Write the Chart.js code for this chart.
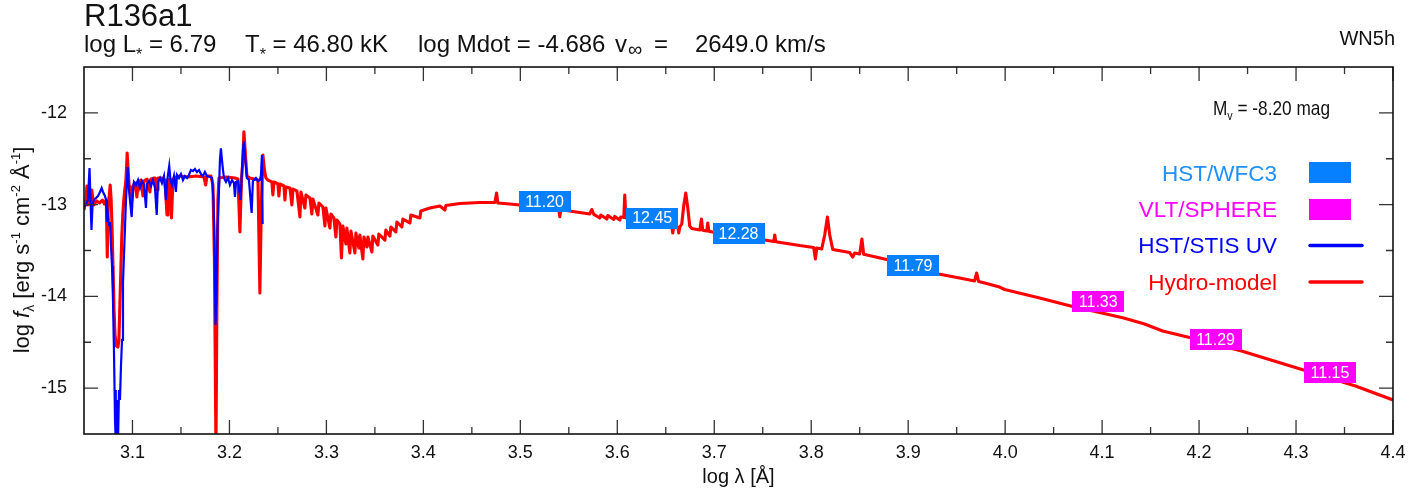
<!DOCTYPE html>
<html>
<head>
<meta charset="utf-8">
<title>R136a1 SED</title>
<script src="https://cdn.jsdelivr.net/npm/chart.js@4.4.1/dist/chart.umd.min.js"></script>
<style>
  html, body { margin: 0; padding: 0; background: #fff; }
</style>
</head>
<body>
<canvas id="sedChart" width="1419" height="495"></canvas>
<script>
// Model spectrum: [log lambda (A), log f_lambda]
const modelSpectrum = [
  [3.050, -13.059], [3.052, -12.950], [3.053, -12.797], [3.054, -13.004], [3.056, -12.982],
  [3.058, -12.841], [3.060, -13.004], [3.063, -12.960], [3.066, -12.982], [3.069, -12.950],
  [3.071, -12.993], [3.073, -12.950], [3.074, -13.571], [3.075, -12.982], [3.076, -12.906],
  [3.077, -12.786], [3.078, -12.950], [3.079, -13.277], [3.080, -13.713], [3.081, -14.148],
  [3.082, -14.421], [3.0835, -14.541], [3.085, -14.552], [3.086, -14.475], [3.087, -14.094],
  [3.088, -13.713], [3.089, -13.331], [3.090, -13.113], [3.091, -12.950], [3.092, -12.841],
  [3.093, -12.764], [3.094, -12.568], [3.0945, -12.437], [3.0955, -12.623], [3.0966, -12.797],
  [3.0985, -12.819], [3.0995, -12.950], [3.1005, -12.797], [3.1026, -12.764], [3.1046, -12.917],
  [3.1057, -12.753], [3.1088, -12.732], [3.1108, -12.906], [3.1119, -12.743], [3.115, -12.721],
  [3.118, -12.862], [3.119, -12.721], [3.1232, -12.710], [3.1253, -12.841], [3.1263, -12.710],
  [3.1304, -12.710], [3.1335, -12.732], [3.1356, -13.113], [3.1366, -12.732], [3.1387, -12.721],
  [3.1402, -13.146], [3.1418, -12.721], [3.1448, -12.699], [3.149, -12.688], [3.1572, -12.699],
  [3.1655, -12.688], [3.1737, -12.699], [3.1755, -12.786], [3.1768, -12.688], [3.1809, -12.688],
  [3.183, -12.786], [3.1845, -13.604], [3.1861, -15.674], [3.1871, -14.039], [3.1881, -12.950],
  [3.1892, -12.710], [3.1964, -12.699], [3.2057, -12.710], [3.2088, -12.721], [3.2108, -13.298],
  [3.2124, -12.732], [3.2139, -12.514], [3.2149, -12.205], [3.2165, -12.459], [3.218, -12.688],
  [3.2211, -12.710], [3.2253, -12.721], [3.2294, -12.732], [3.2314, -13.963], [3.233, -12.950],
  [3.2345, -12.459], [3.2361, -12.623], [3.2376, -12.710], [3.2397, -12.732],
  [3.2438, -12.753], [3.2448, -12.895], [3.2459, -12.753], [3.250, -12.775], [3.251, -12.906],
  [3.252, -12.775], [3.2562, -12.797], [3.2572, -12.950], [3.2582, -12.808], [3.2624, -12.819],
  [3.2644, -13.004], [3.2655, -12.830], [3.2696, -12.851], [3.2727, -13.135], [3.2737, -12.862],
  [3.2778, -13.037], [3.2789, -12.895], [3.283, -12.928], [3.285, -13.102], [3.2861, -12.939],
  [3.2912, -13.113], [3.2923, -12.982], [3.2964, -13.026], [3.2985, -13.233], [3.2995, -13.037],
  [3.3036, -13.255], [3.3046, -13.102], [3.3077, -13.146], [3.3098, -13.353], [3.3108, -13.168],
  [3.3139, -13.211], [3.3155, -13.582], [3.317, -13.233], [3.3201, -13.429], [3.3211, -13.255],
  [3.3242, -13.527], [3.3253, -13.287], [3.3294, -13.527], [3.3304, -13.309], [3.3335, -13.473],
  [3.3345, -13.331], [3.3376, -13.593], [3.3387, -13.353], [3.3418, -13.462], [3.3428, -13.353],
  [3.3469, -13.516], [3.3479, -13.342], [3.353, -13.440], [3.3541, -13.320], [3.3603, -13.386],
  [3.3613, -13.277], [3.3655, -13.342], [3.3665, -13.244], [3.3716, -13.298], [3.3727, -13.189],
  [3.3778, -13.244], [3.3789, -13.157], [3.3861, -13.200], [3.3871, -13.113], [3.3964, -13.146],
  [3.3974, -13.069], [3.4067, -13.037], [3.417, -13.015], [3.4222, -13.059], [3.4232, -13.010],
  [3.4376, -12.988], [3.4479, -12.982], [3.4582, -12.977], [3.4686, -12.977], [3.4737, -12.977],
  [3.4755, -12.873], [3.4768, -12.982], [3.4892, -12.993], [3.4995, -13.004], [3.5201, -13.031],
  [3.5397, -13.053], [3.5407, -13.132], [3.5418, -13.056], [3.5613, -13.086], [3.5716, -13.102],
  [3.5737, -13.053], [3.5758, -13.107], [3.582, -13.146], [3.583, -13.113], [3.5892, -13.157],
  [3.5902, -13.119], [3.5964, -13.162], [3.5974, -13.129], [3.6026, -13.168], [3.6036, -13.135],
  [3.6067, -13.140], [3.6077, -12.895], [3.6088, -13.146], [3.6232, -13.173], [3.6438, -13.217],
  [3.6562, -13.238], [3.6572, -13.309], [3.6582, -13.240], [3.6624, -13.244], [3.6634, -13.309],
  [3.6644, -13.247], [3.6665, -13.211], [3.6686, -13.004], [3.6706, -12.873], [3.6727, -13.037],
  [3.6747, -13.233], [3.6768, -13.260], [3.6851, -13.277], [3.6868, -13.157], [3.6881, -13.280],
  [3.6923, -13.287], [3.6933, -13.200], [3.6943, -13.290], [3.7057, -13.315], [3.7263, -13.347],
  [3.7521, -13.386], [3.7614, -13.402], [3.7624, -13.331], [3.7634, -13.404], [3.7881, -13.446],
  [3.8026, -13.467], [3.8043, -13.593], [3.8057, -13.473], [3.8108, -13.484], [3.8139, -13.331],
  [3.8167, -13.135], [3.8191, -13.331], [3.8222, -13.489], [3.8397, -13.522], [3.8428, -13.571],
  [3.8448, -13.527], [3.850, -13.538], [3.8523, -13.375], [3.8541, -13.541], [3.8778, -13.598],
  [3.8912, -13.625], [3.9015, -13.658], [3.9119, -13.702], [3.9314, -13.756], [3.953, -13.800],
  [3.9685, -13.832], [3.9706, -13.745], [3.9726, -13.837], [3.9789, -13.854], [3.9943, -13.898],
  [3.9995, -13.925], [4.0356, -14.018], [4.0696, -14.110], [4.0974, -14.176], [4.1222, -14.236],
  [4.1438, -14.301], [4.1624, -14.377], [4.1902, -14.448], [4.2438, -14.595], [4.3077, -14.802],
  [4.3613, -14.977], [4.400, -15.129]
];

// HST/STIS UV spectrum: [log lambda (A), log f_lambda]
const stisSpectrum = [
  [3.050, -13.026], [3.052, -13.004], [3.054, -12.950], [3.0557, -12.601], [3.0567, -12.950],
  [3.0577, -13.277], [3.0588, -13.004], [3.060, -12.950], [3.0624, -12.928], [3.0644, -12.906],
  [3.0665, -12.862], [3.0682, -12.819], [3.0696, -12.862], [3.0716, -12.906], [3.0727, -12.950],
  [3.0737, -13.189], [3.0747, -13.113], [3.0758, -13.222], [3.0768, -13.189], [3.0778, -13.440],
  [3.0789, -13.669], [3.0799, -14.039], [3.0809, -14.584], [3.082, -15.347], [3.0825, -15.020],
  [3.083, -15.565], [3.084, -15.129], [3.0851, -15.565], [3.0861, -15.020], [3.0871, -15.129],
  [3.0881, -14.770], [3.0892, -14.475], [3.0902, -13.854], [3.0918, -13.386], [3.0933, -12.950],
  [3.095, -12.590], [3.0964, -12.841], [3.0979, -13.004], [3.0992, -13.135], [3.1005, -12.841],
  [3.1015, -12.753], [3.1036, -12.786], [3.1057, -12.732], [3.1077, -12.819], [3.1098, -12.743],
  [3.1119, -12.786], [3.1139, -13.037], [3.115, -12.775], [3.117, -12.743], [3.1191, -12.797],
  [3.1211, -12.732], [3.1232, -12.819], [3.125, -13.113], [3.1263, -12.753], [3.1284, -12.710],
  [3.1304, -12.764], [3.1325, -12.688], [3.1345, -12.950], [3.1356, -12.753], [3.1379, -12.579],
  [3.1392, -12.732], [3.1407, -12.786], [3.1428, -12.688], [3.1448, -12.862], [3.1459, -12.677],
  [3.1479, -12.710], [3.150, -12.666], [3.1521, -12.732], [3.1541, -12.688], [3.1562, -12.710],
  [3.1582, -12.677], [3.1603, -12.623], [3.1624, -12.634], [3.1644, -12.612], [3.1665, -12.645],
  [3.1686, -12.623], [3.1706, -12.666], [3.1727, -12.688], [3.1747, -12.645], [3.1768, -12.688],
  [3.1799, -12.699], [3.182, -12.710], [3.1835, -12.950], [3.1845, -13.386], [3.1856, -14.312],
  [3.1866, -14.039], [3.1876, -13.277], [3.1892, -12.841], [3.1902, -12.514], [3.1912, -12.386],
  [3.1928, -12.568], [3.1943, -12.710], [3.1964, -12.753], [3.1985, -12.710], [3.2005, -12.786],
  [3.2026, -12.732], [3.2046, -12.764], [3.2057, -12.917], [3.2067, -12.753], [3.2088, -12.743],
  [3.2115, -12.950], [3.2129, -12.623], [3.2139, -12.405], [3.2149, -12.314], [3.2165, -12.514],
  [3.218, -12.710], [3.2201, -12.732], [3.2229, -13.091], [3.2242, -12.743], [3.2273, -12.710],
  [3.2294, -12.743], [3.2314, -12.732], [3.2325, -12.677], [3.2335, -12.459], [3.2342, -13.211]
];

// Photometry: filter log lambda, log flux and the quoted magnitudes
const wfc3LogLam = [3.525, 3.636, 3.725, 3.905];
const wfc3LogF = [-12.966, -13.146, -13.317, -13.666];
const wfc3Mag = ['11.20', '12.45', '12.28', '11.79'];
const sphereLogLam = [4.096, 4.217, 4.335];
const sphereLogF = [-14.054, -14.467, -14.828];
const sphereMag = ['11.33', '11.29', '11.15'];

// Axis ticks
const xTickValues = [3.1, 3.2, 3.3, 3.4, 3.5, 3.6, 3.7, 3.8, 3.9, 4.0, 4.1, 4.2, 4.3, 4.4];
const xMinorValues = [3.15, 3.25, 3.35, 3.45, 3.55, 3.65, 3.75, 3.85, 3.95, 4.05, 4.15, 4.25, 4.35];
const yTickValues = [-12, -13, -14, -15];
const yMinorValues = [-12.5, -13.5, -14.5];

const FONT = '"Liberation Sans", Arial, Helvetica, sans-serif';
const WFC3_FILL = '#0680ff';
const SPHERE_FILL = '#ff00ff';

const pairs = rows => rows.map(([x, y]) => ({ x, y }));
const zip = (xs, ys) => xs.map((x, i) => ({ x, y: ys[i] }));

function runsWidth(ctx, runs, base) {
  let w = 0;
  runs.forEach(r => {
    ctx.font = `${r.italic ? 'italic ' : ''}${r.size || base}px ${FONT}`;
    w += ctx.measureText(r.t).width;
  });
  return w;
}

function drawRuns(ctx, x, y, runs, base) {
  runs.forEach(r => {
    ctx.font = `${r.italic ? 'italic ' : ''}${r.size || base}px ${FONT}`;
    ctx.fillText(r.t, x, y + (r.dy || 0));
    x += ctx.measureText(r.t).width;
  });
  return x;
}

function drawTags(chart, index, labels, fill) {
  const ctx = chart.ctx;
  chart.getDatasetMeta(index).data.forEach((pt, i) => {
    ctx.fillStyle = fill;
    ctx.fillRect(Math.round(pt.x - 26), Math.round(pt.y - 10.5), 52, 21);
    ctx.fillStyle = '#fff';
    ctx.font = `16px ${FONT}`;
    ctx.textAlign = 'center';
    ctx.textBaseline = 'middle';
    ctx.fillText(labels[i], pt.x, pt.y + 1);
  });
}

const sedDecor = {
  id: 'sedDecor',
  afterDatasetsDraw(chart) {
    const { ctx, chartArea: a, scales } = chart;
    const sx = scales.x, sy = scales.y;
    ctx.save();
    drawTags(chart, 2, wfc3Mag, WFC3_FILL);
    drawTags(chart, 3, sphereMag, SPHERE_FILL);

    // inward tick marks on all four sides
    ctx.strokeStyle = '#333';
    ctx.lineWidth = 1.3;
    ctx.beginPath();
    const xTick = (v, len) => {
      const px = sx.getPixelForValue(v);
      ctx.moveTo(px, a.bottom); ctx.lineTo(px, a.bottom - len);
      ctx.moveTo(px, a.top); ctx.lineTo(px, a.top + len);
    };
    const yTick = (v, len) => {
      const py = sy.getPixelForValue(v);
      ctx.moveTo(a.left, py); ctx.lineTo(a.left + len, py);
      ctx.moveTo(a.right, py); ctx.lineTo(a.right - len, py);
    };
    xTickValues.forEach(v => xTick(v, 14));
    xMinorValues.forEach(v => xTick(v, 7));
    yTickValues.forEach(v => yTick(v, 14));
    yMinorValues.forEach(v => yTick(v, 7));
    ctx.stroke();

    ctx.strokeStyle = '#111';
    ctx.lineWidth = 1.6;
    ctx.strokeRect(a.left, a.top, a.right - a.left, a.bottom - a.top);
    ctx.restore();
  },
  afterDraw(chart) {
    const { ctx, chartArea: a } = chart;
    ctx.save();
    ctx.textAlign = 'left';
    ctx.textBaseline = 'alphabetic';
    ctx.fillStyle = '#111';

    // star name and parameters
    drawRuns(ctx, 84, 26, [{ t: 'R136a1' }], 31);
    drawRuns(ctx, 84, 52, [{ t: 'log L' }, { t: '*', size: 16, dy: 8 }, { t: ' = 6.79' }], 24);
    drawRuns(ctx, 245, 52, [{ t: 'T' }, { t: '*', size: 16, dy: 8 }, { t: ' = 46.80 kK' }], 24);
    drawRuns(ctx, 418, 52, [{ t: 'log Mdot = -4.686' }], 24);
    drawRuns(ctx, 615, 52, [{ t: 'v' }], 24);
    drawRuns(ctx, 628, 52, [{ t: '\u221E', size: 20, dy: 4 }], 24);
    drawRuns(ctx, 654, 52, [{ t: '=' }], 24);
    drawRuns(ctx, 695, 52, [{ t: '2649.0 km/s' }], 24);

    ctx.textAlign = 'right';
    ctx.font = `20px ${FONT}`;
    ctx.fillText('WN5h', 1395, 45);
    ctx.textAlign = 'left';

    // absolute visual magnitude, condensed
    const mvRuns = [{ t: 'M' }, { t: 'v', size: 13, dy: 5 }, { t: ' = -8.20 mag' }];
    const mvW = runsWidth(ctx, mvRuns, 21);
    ctx.save();
    ctx.translate(1213, 115);
    ctx.scale(117 / mvW, 1);
    drawRuns(ctx, 0, 0, mvRuns, 21);
    ctx.restore();

    // legend
    const legendRows = [
      { label: 'HST/WFC3', color: '#1e90ff', base: 181, box: WFC3_FILL, top: 162 },
      { label: 'VLT/SPHERE', color: '#ff00ff', base: 217, box: SPHERE_FILL, top: 199 },
      { label: 'HST/STIS UV', color: '#0000ff', base: 253, line: 245.5 },
      { label: 'Hydro-model', color: '#ff0000', base: 289.5, line: 282 }
    ];
    ctx.textAlign = 'right';
    ctx.font = `22.5px ${FONT}`;
    legendRows.forEach(r => {
      ctx.fillStyle = r.color;
      ctx.fillText(r.label, 1277, r.base);
      if (r.box) {
        ctx.fillStyle = r.box;
        ctx.fillRect(1309, r.top, 42, 21);
      } else {
        ctx.strokeStyle = r.color;
        ctx.lineWidth = 3.5;
        ctx.lineCap = 'round';
        ctx.beginPath();
        ctx.moveTo(1310, r.line);
        ctx.lineTo(1362, r.line);
        ctx.stroke();
      }
    });

    // axis titles
    ctx.fillStyle = '#111';
    ctx.textAlign = 'left';
    const xTitle = [{ t: 'log \u03BB [\u00C5]' }];
    const xw = runsWidth(ctx, xTitle, 20);
    drawRuns(ctx, (a.left + a.right) / 2 - xw / 2, 483, xTitle, 20);

    const yTitle = [
      { t: 'log ' }, { t: 'f', italic: true }, { t: '\u03BB', size: 14, dy: 5 },
      { t: ' [erg s' }, { t: '-1', size: 13, dy: -9 },
      { t: ' cm' }, { t: '-2', size: 13, dy: -9 },
      { t: ' \u00C5' }, { t: '-1', size: 13, dy: -9 }, { t: ']' }
    ];
    const yw = runsWidth(ctx, yTitle, 22);
    ctx.save();
    ctx.translate(29, 250);
    ctx.rotate(-Math.PI / 2);
    drawRuns(ctx, -yw / 2, 0, yTitle, 22);
    ctx.restore();

    ctx.restore();
  }
};

new Chart(document.getElementById('sedChart').getContext('2d'), {
  type: 'scatter',
  data: {
    datasets: [
      {
        // first dataset is painted last, so the observed spectrum sits on top
        label: 'HST/STIS UV',
        data: pairs(stisSpectrum),
        showLine: true,
        borderColor: '#0000ff',
        borderWidth: 2.2,
        pointRadius: 0,
        tension: 0
      },
      {
        label: 'Hydro-model',
        data: pairs(modelSpectrum),
        showLine: true,
        borderColor: '#ff0000',
        borderWidth: 3.1,
        borderJoinStyle: 'round',
        pointRadius: 0,
        tension: 0
      },
      {
        label: 'HST/WFC3',
        data: zip(wfc3LogLam, wfc3LogF),
        pointRadius: 0
      },
      {
        label: 'VLT/SPHERE',
        data: zip(sphereLogLam, sphereLogF),
        pointRadius: 0
      }
    ]
  },
  options: {
    responsive: false,
    animation: false,
    events: [],
    layout: { padding: { left: 0, top: 67, right: 26, bottom: 0 } },
    plugins: {
      legend: { display: false },
      tooltip: { enabled: false }
    },
    scales: {
      x: {
        type: 'linear',
        min: 3.05,
        max: 4.4,
        afterBuildTicks: s => { s.ticks = xTickValues.map(v => ({ value: v })); },
        afterFit: s => { s.height = 61; },
        grid: { display: false, drawTicks: false },
        border: { display: false },
        ticks: {
          padding: 8,
          color: '#111',
          autoSkip: false,
          maxRotation: 0,
          font: { family: FONT, size: 18 },
          callback: v => v.toFixed(1)
        }
      },
      y: {
        type: 'linear',
        min: -15.5,
        max: -11.5,
        afterBuildTicks: s => { s.ticks = yTickValues.map(v => ({ value: v })); },
        afterFit: s => { s.width = 84; },
        grid: { display: false, drawTicks: false },
        border: { display: false },
        ticks: {
          padding: 17,
          color: '#111',
          font: { family: FONT, size: 18 },
          callback: v => String(v)
        }
      }
    }
  },
  plugins: [sedDecor]
});
</script>
</body>
</html>
